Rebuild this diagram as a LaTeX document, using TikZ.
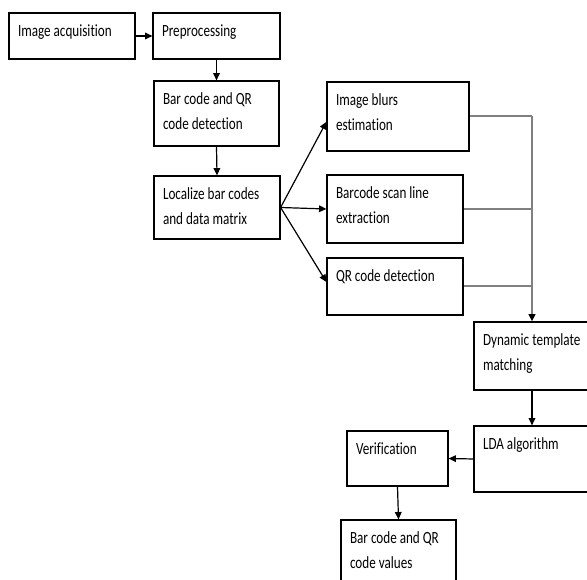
\documentclass[tikz,border=0pt]{standalone}
\usepackage{fontspec}
\newfontfamily\boxfont{Carlito}[FakeStretch=0.77, Ligatures=NoCommon]
\usepackage{tikz}
\usetikzlibrary{arrows.meta, calc}
\newcommand{\lstrut}{\rule{0pt}{10pt}}
\tikzset{
  box/.style    = {rectangle, draw=black, line width=0.9pt, inner sep=0pt},
  lbl/.style    = {anchor=north west, align=left, inner sep=0pt,
                   font=\boxfont\fontsize{12.8}{18.75}\selectfont},
  arrow/.style  = {-{Triangle[length=5.5pt, width=5pt]}, line width=0.9pt},
  bus/.style    = {line width=1.5pt, draw=black!50},
}

\begin{document}
\begin{tikzpicture}[x=0.75pt, y=-0.75pt]
  \useasboundingbox (0,0) rectangle (587,580);
  \clip (0,0) rectangle (587,580);

  % ---- left column ----
  \node[box, minimum width=94.5pt, minimum height=34.5pt] (acq) at (72,36) {};
  \node[box, minimum width=95.25pt, minimum height=34.5pt] (pre) at (216.5,36) {};
  \node[box, minimum width=93.75pt, minimum height=48.75pt] (det) at (216.5,113.5) {};
  \node[box, minimum width=94.5pt, minimum height=47.25pt] (loc) at (217,207.5) {};

  % ---- parallel branches ----
  \node[box, minimum width=106.5pt, minimum height=51.75pt] (blur) at (398,116.5) {};
  \node[box, minimum width=102pt, minimum height=51pt] (scan) at (395,209) {};
  \node[box, minimum width=102pt, minimum height=42.75pt] (qr) at (395,286.5) {};

  % ---- right / bottom ----
  \node[box, minimum width=87pt, minimum height=51pt] (dyn) at (532,356) {};
  \node[box, minimum width=87pt, minimum height=49.5pt] (lda) at (532,459) {};
  \node[box, minimum width=75.75pt, minimum height=41.25pt] (ver) at (397.5,458.5) {};
  \node[box, minimum width=86.25pt, minimum height=60pt] (val) at (398.5,560) {};

  % labels
  \foreach \n/\t in {acq/{Image acquisition}, pre/{Preprocessing},
                     det/{Bar code and QR\\code detection},
                     loc/{Localize bar codes\\and data matrix},
                     blur/{Image blurs\\estimation},
                     scan/{Barcode scan line\\extraction},
                     qr/{QR code detection},
                     dyn/{Dynamic template\\matching},
                     lda/{LDA algorithm}, ver/{Verification},
                     val/{Bar code and QR\\code values}}
    \node[lbl] (\n-txt) at ([xshift=7pt, yshift=-8pt]\n.north west) {\lstrut\t};

  % arrows
  \draw[arrow] (acq.east) -- (pre.west);
  \foreach \a/\b in {pre/det, det/loc, dyn/lda, ver/val}
    \draw[arrow] (\a.south) -- (\b.north);
  \draw[arrow] (loc.east) -- ([yshift=-4pt]blur.west);
  \draw[arrow] (loc.east) -- (scan.west);
  \draw[arrow] (loc.east) -- ([yshift=3.4pt]qr.west);
  \draw[arrow] (lda.west) -- (ver.east);

  % collecting lines
  \coordinate (top) at (blur.east -| dyn.north);
  \draw[bus] (blur.east) -- (top);
  \draw[bus] (scan.east) -- (scan.east -| top);
  \draw[bus] (qr.east) -- (qr.east -| top);
  \draw[bus, -{Triangle[length=5.5pt, width=5pt, color=black]}] (top) -- (dyn.north);

\end{tikzpicture}
\end{document}
